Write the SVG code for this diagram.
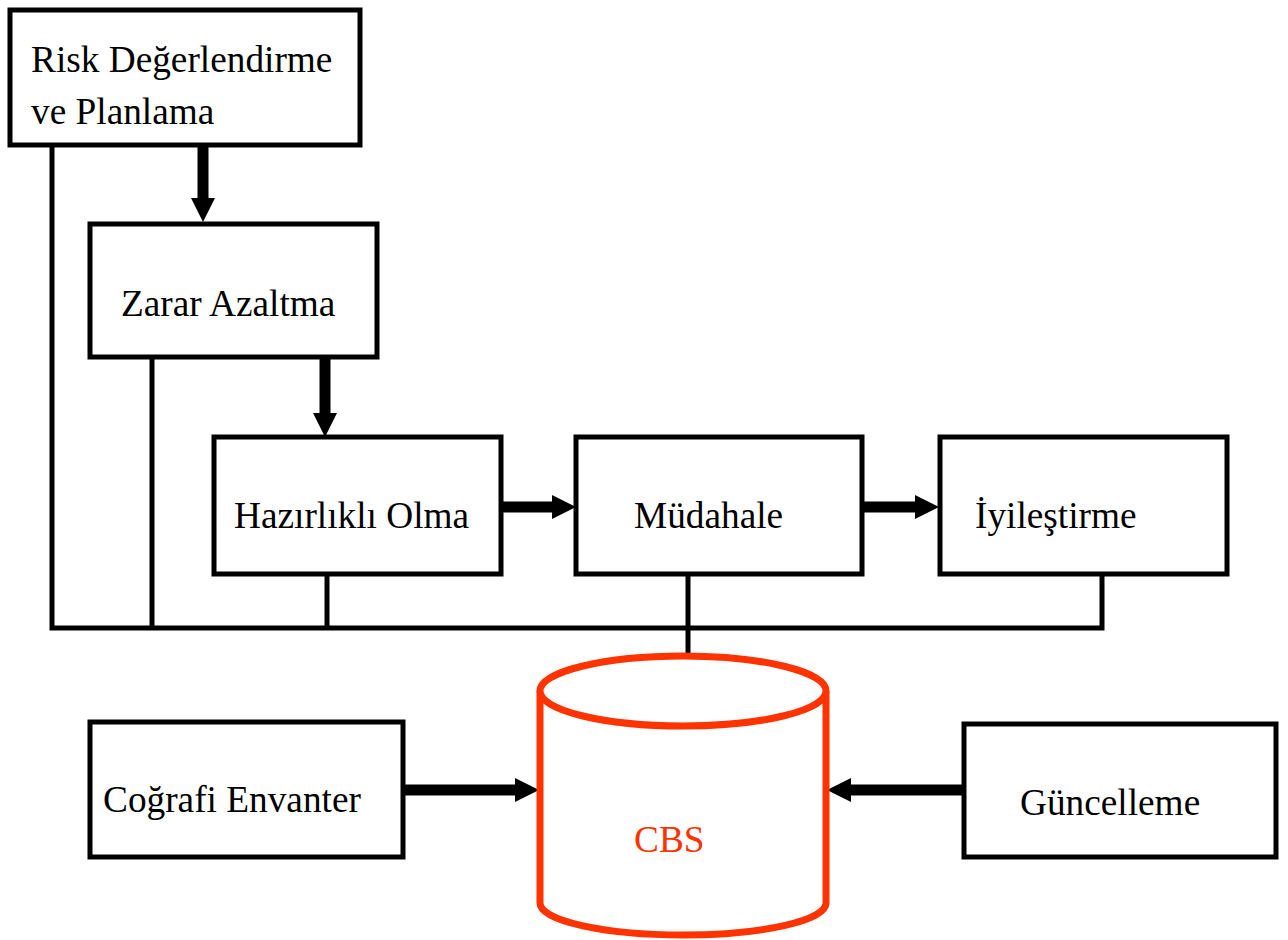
<svg xmlns="http://www.w3.org/2000/svg" width="1288" height="940" viewBox="0 0 1288 940">
<style>
.box{fill:#fff;stroke:#000;stroke-width:5}
.lbl{font-family:"Liberation Serif","Times New Roman",serif;font-size:37.3px;fill:#000}
.red{fill:#FF3300}
.ln{stroke:#000;stroke-width:5;fill:none}
.arr{stroke:#000;stroke-width:11;fill:none;marker-end:url(#ah)}
.cyl{fill:#fff;stroke:#FF3300;stroke-width:7}
</style>
<defs>
<marker id="ah" markerUnits="userSpaceOnUse" markerWidth="24" markerHeight="24" refX="0" refY="12" orient="auto" overflow="visible">
<path d="M0,0 L24,12 L0,24 Z" fill="#000"/>
</marker>
</defs>
<rect width="1288" height="940" fill="#fff"/>
<g id="connectors">
<polyline class="ln" points="52,145 52,628 1102,628 1102,574"/>
<line class="ln" x1="152" y1="357" x2="152" y2="628"/>
<line class="ln" x1="327" y1="574" x2="327" y2="628"/>
<line class="ln" x1="688" y1="574" x2="688" y2="657"/>
<line class="arr" x1="203" y1="145" x2="203" y2="198"/>
<line class="arr" x1="325" y1="357" x2="325" y2="413"/>
<line class="arr" x1="501" y1="507" x2="552" y2="507"/>
<line class="arr" x1="862" y1="507" x2="915" y2="507"/>
<line class="arr" x1="403" y1="790" x2="515" y2="790"/>
<line class="arr" x1="964" y1="790" x2="851" y2="790"/>
</g>
<g id="risk">
<rect class="box" x="10" y="10" width="350" height="135"/>
<text class="lbl" x="31" y="72">Risk Değerlendirme</text>
<text class="lbl" x="31" y="124">ve Planlama</text>
</g>
<g id="zarar">
<rect class="box" x="90" y="224" width="287" height="133"/>
<text class="lbl" x="121" y="316">Zarar Azaltma</text>
</g>
<g id="hazirlikli">
<rect class="box" x="214" y="437" width="287" height="137"/>
<text class="lbl" x="234" y="528">Hazırlıklı Olma</text>
</g>
<g id="mudahale">
<rect class="box" x="576" y="437" width="286" height="137"/>
<text class="lbl" x="634" y="528">Müdahale</text>
</g>
<g id="iyilestirme">
<rect class="box" x="940" y="437" width="287" height="137"/>
<text class="lbl" x="975" y="528">İyileştirme</text>
</g>
<g id="cografi">
<rect class="box" x="90" y="722" width="313" height="135"/>
<text class="lbl" x="103" y="812">Coğrafi Envanter</text>
</g>
<g id="guncelleme">
<rect class="box" x="964" y="724" width="312" height="133"/>
<text class="lbl" x="1020" y="815">Güncelleme</text>
</g>
<g id="cbs">
<path class="cyl" d="M540,691 L540,903 A143,32 0 0 0 826,903 L826,691"/>
<ellipse class="cyl" cx="683" cy="691" rx="143" ry="35"/>
<text class="lbl red" x="634" y="852">CBS</text>
</g>
</svg>
